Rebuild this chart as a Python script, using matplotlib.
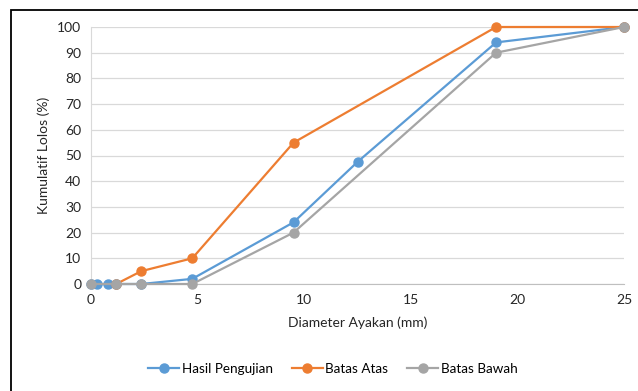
import matplotlib
matplotlib.use('Agg')
import matplotlib.pyplot as plt
from matplotlib.patches import Rectangle

plt.rcParams['font.family'] = ['Lato', 'DejaVu Sans']

# ukuran saringan (mm) dan persen lolos kumulatif
hasil_x = [0, 0.3, 0.8, 1.18, 2.36, 4.75, 9.5, 12.5, 19, 25]
hasil_y = [0, 0, 0, 0, 0, 2, 24, 47.5, 94, 100]

atas_x = [1.18, 2.36, 4.75, 9.5, 19, 25]
atas_y = [0, 5, 10, 55, 100, 100]

bawah_x = [0, 1.18, 2.36, 4.75, 9.5, 19, 25]
bawah_y = [0, 0, 0, 0, 20, 90, 100]

x_ticks = [0, 5, 10, 15, 20, 25]
y_ticks = list(range(0, 101, 10))

fig = plt.figure(figsize=(6.38, 3.91), dpi=100)
ax = fig.add_axes([91/638, 1-284/391, (624-91)/638, (284-27)/391])

style = dict(marker='o', markersize=6.5, linewidth=1.6, clip_on=False)
ax.plot(hasil_x, hasil_y, color='#5B9BD5', label='Hasil Pengujian', zorder=3, **style)
ax.plot(atas_x, atas_y, color='#ED7D31', label='Batas Atas', zorder=4, **style)
ax.plot(bawah_x, bawah_y, color='#A5A5A5', label='Batas Bawah', zorder=5, **style)

ax.set_xlim(0, 25)
ax.set_ylim(0, 100)
ax.set_xticks(x_ticks)
ax.set_yticks(y_ticks)
ax.tick_params(length=0, labelsize=10, colors='#262626', pad=7)
ax.grid(axis='y', color='#D9D9D9', linewidth=0.9)
ax.set_axisbelow(True)
for s in ['top', 'right']:
    ax.spines[s].set_visible(False)
ax.spines['bottom'].set_color('#BFBFBF')
ax.spines['left'].set_color('#D9D9D9')

ax.set_xlabel('Diameter Ayakan (mm)', fontsize=10, color='#262626', labelpad=8)
ax.set_ylabel('Kumulatif Lolos (%)', fontsize=10, color='#262626', labelpad=5)

fig.legend(loc='center', bbox_to_anchor=(333/638, 1-369/391), ncol=3,
           frameon=False, fontsize=9.7, handlelength=2.3, columnspacing=1.4,
           handletextpad=0.2)

# bingkai luar grafik
fig.patches.append(Rectangle((11/638, -0.1), 1.2, 1-10/391+0.1,
                             transform=fig.transFigure, fill=False,
                             edgecolor='black', linewidth=1.3))

fig.savefig('out.png', dpi=100)
